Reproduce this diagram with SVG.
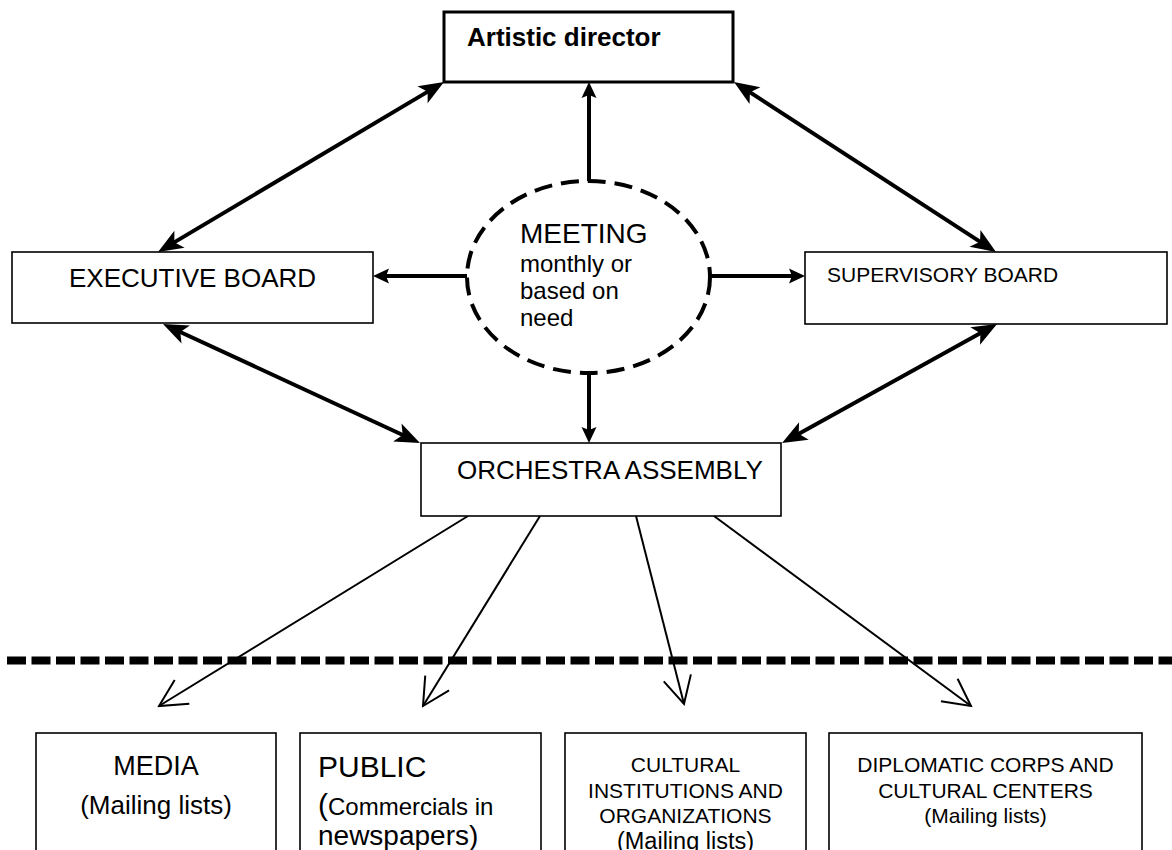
<svg xmlns="http://www.w3.org/2000/svg" width="1172" height="850" viewBox="0 0 1172 850">
<style>
text{font-family:"Liberation Sans",Arial,sans-serif;fill:#000}
.box{fill:#fff;stroke:#000;stroke-width:1.6}
.thick{stroke:#000;stroke-width:4;fill:none}
.thin{stroke:#000;stroke-width:2;fill:none;marker-end:url(#open)}
</style>
<defs>
<marker id="big" viewBox="-16 -11 28 22" markerWidth="28" markerHeight="22" refX="0" refY="0" orient="auto-start-reverse" markerUnits="userSpaceOnUse"><path d="M10,0 L-15,-10 L-9,0 L-15,10 z" fill="#000"/></marker>
<marker id="small" viewBox="-10 -8 20 16" markerWidth="20" markerHeight="16" refX="0" refY="0" orient="auto" markerUnits="userSpaceOnUse"><path d="M8,0 L-8,-7.5 L-5,0 L-8,7.5 z" fill="#000"/></marker>
<marker id="open" viewBox="-30 -16 32 32" markerWidth="32" markerHeight="32" refX="0" refY="0" orient="auto" markerUnits="userSpaceOnUse"><path d="M-27,-14 L0,0 L-27,14" fill="none" stroke="#000" stroke-width="2"/></marker>
</defs>
<rect width="1172" height="850" fill="#fff"/>
<line x1="7" y1="660.5" x2="1172" y2="660.5" stroke="#000" stroke-width="8" stroke-dasharray="19 5.5"/>
<g id="connectors">
<line class="thick" x1="435.4" y1="87.1" x2="166.6" y2="246.9" marker-start="url(#big)" marker-end="url(#big)"/>
<line class="thick" x1="742.4" y1="87.4" x2="987.6" y2="246.6" marker-start="url(#big)" marker-end="url(#big)"/>
<line class="thick" x1="172.1" y1="328.2" x2="410.9" y2="438.8" marker-start="url(#big)" marker-end="url(#big)"/>
<line class="thick" x1="988.3" y1="328.8" x2="790.8" y2="438.2" marker-start="url(#big)" marker-end="url(#big)"/>
<line class="thick" x1="589" y1="181" x2="589" y2="90" marker-end="url(#small)"/>
<line class="thick" x1="589" y1="373" x2="589" y2="435" marker-end="url(#small)"/>
<line class="thick" x1="467" y1="276" x2="381" y2="276" marker-end="url(#small)"/>
<line class="thick" x1="710" y1="276" x2="797" y2="276" marker-end="url(#small)"/>
<line class="thin" x1="468" y1="516" x2="159" y2="706"/>
<line class="thin" x1="540" y1="516" x2="423" y2="706"/>
<line class="thin" x1="636" y1="516" x2="684" y2="704"/>
<line class="thin" x1="714" y1="516" x2="971" y2="706"/>
</g>
<g id="artistic-director">
<rect x="444" y="12" width="289" height="70" fill="#fff" stroke="#000" stroke-width="3"/>
<text x="467" y="46" font-size="26" font-weight="bold">Artistic director</text>
</g>
<g id="meeting">
<ellipse cx="588.5" cy="277" rx="121.5" ry="96" fill="#fff" stroke="#000" stroke-width="4" stroke-dasharray="18 9"/>
<text x="520" y="243" font-size="28">MEETING</text>
<text x="520" y="272" font-size="24">monthly or</text>
<text x="520" y="299" font-size="24">based on</text>
<text x="520" y="326" font-size="24">need</text>
</g>
<g id="executive-board">
<rect class="box" x="12" y="252" width="361" height="71"/>
<text x="192.5" y="287" font-size="26" text-anchor="middle">EXECUTIVE BOARD</text>
</g>
<g id="supervisory-board">
<rect class="box" x="805" y="252" width="362" height="72"/>
<text x="827" y="282" font-size="21">SUPERVISORY BOARD</text>
</g>
<g id="orchestra-assembly">
<rect class="box" x="421" y="443" width="360" height="73"/>
<text x="457" y="479" font-size="26">ORCHESTRA ASSEMBLY</text>
</g>
<g id="media">
<rect class="box" x="36" y="733" width="240" height="130"/>
<text x="156" y="775" font-size="27" text-anchor="middle">MEDIA</text>
<text x="156" y="814" font-size="26" text-anchor="middle">(Mailing lists)</text>
</g>
<g id="public">
<rect class="box" x="300" y="733" width="241" height="130"/>
<text x="318" y="777" font-size="30">PUBLIC</text>
<text x="318" y="815" font-size="24"><tspan font-size="30">(</tspan>Commercials in</text>
<text x="318" y="845" font-size="28">newspapers)</text>
</g>
<g id="cultural">
<rect class="box" x="565" y="733" width="241" height="130"/>
<text x="685.5" y="772" font-size="21" text-anchor="middle">CULTURAL</text>
<text x="685.5" y="798" font-size="21" text-anchor="middle">INSTITUTIONS AND</text>
<text x="685.5" y="823" font-size="21" text-anchor="middle">ORGANIZATIONS</text>
<text x="685.5" y="849" font-size="23.5" text-anchor="middle">(Mailing lists)</text>
</g>
<g id="diplomatic">
<rect class="box" x="829" y="733" width="313" height="130"/>
<text x="985.5" y="772" font-size="21" text-anchor="middle">DIPLOMATIC CORPS AND</text>
<text x="985.5" y="798" font-size="21" text-anchor="middle">CULTURAL CENTERS</text>
<text x="985.5" y="823" font-size="21" text-anchor="middle">(Mailing lists)</text>
</g>
</svg>
